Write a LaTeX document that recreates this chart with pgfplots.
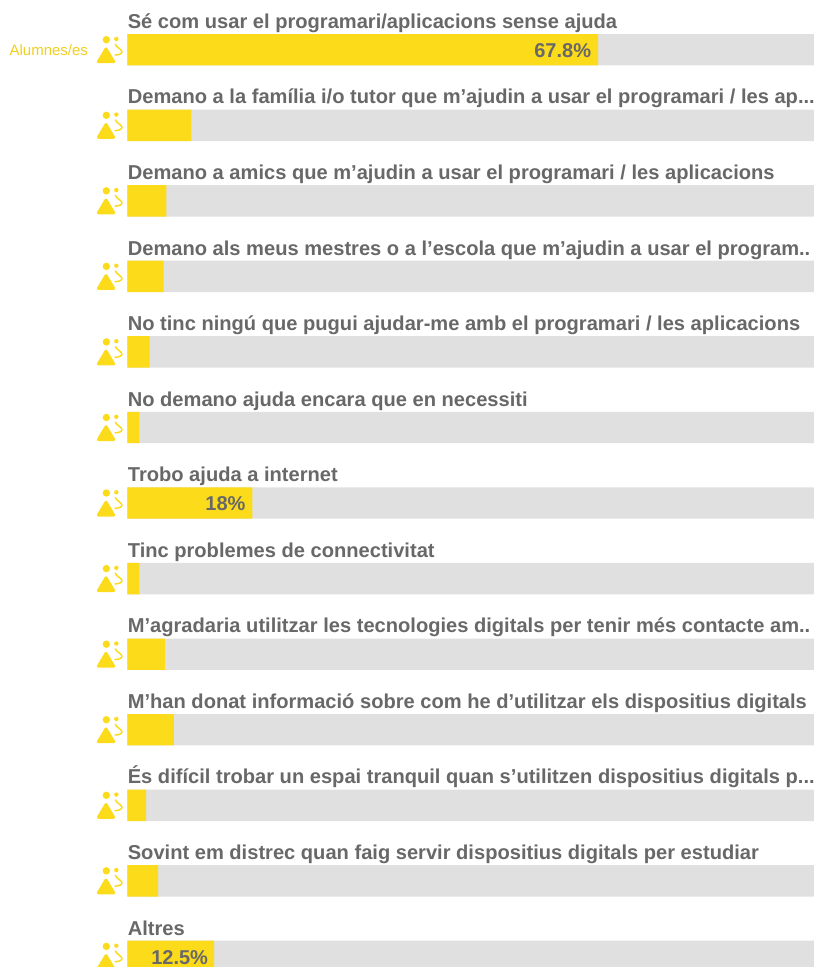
\documentclass[border=0pt]{standalone}
\usepackage{pgfplots}
\pgfplotsset{compat=1.18}
\usepackage{fontspec}
\setmainfont{Liberation Sans}
\definecolor{ybar}{HTML}{FCDB1B}
\definecolor{gbar}{HTML}{E0E0E0}
\definecolor{tgray}{HTML}{686868}
\definecolor{lab}{HTML}{F3CE1C}
\tikzset{
  ttl/.style={anchor=base west, inner sep=0pt, outer sep=0pt, text=tgray, font=\fontsize{20.1pt}{22pt}\selectfont\bfseries},
  pct/.style={anchor=base east, inner sep=0pt, outer sep=0pt, text=tgray, font=\fontsize{20pt}{22pt}\selectfont\bfseries},
}
\pgfdeclareplotmark{pupils}{%
  \pgfsetfillcolor{ybar}\pgfsetstrokecolor{ybar}%
  \pgfpathcircle{\pgfpoint{-4.5pt}{10pt}}{3.7pt}\pgfusepath{fill}%
  \pgfpathcircle{\pgfpoint{5.5pt}{10.7pt}}{2.2pt}\pgfusepath{fill}%
  \pgfsetroundjoin\pgfsetroundcap
  \pgfpathmoveto{\pgfpoint{-4.8pt}{0.8pt}}%
  \pgflineto{\pgfpoint{-12.4pt}{-12pt}}%
  \pgflineto{\pgfpoint{2.8pt}{-12pt}}%
  \pgfpathclose
  \pgfsetlinewidth{3pt}\pgfusepath{fill,stroke}%
  \pgfsetlinewidth{1.5pt}%
  \pgfpathmoveto{\pgfpoint{4.5pt}{5.4pt}}%
  \pgfpathcurveto{\pgfpoint{5.5pt}{2.5pt}}{\pgfpoint{11.2pt}{0pt}}{\pgfpoint{11.2pt}{-2pt}}%
  \pgfpathcurveto{\pgfpoint{11.2pt}{-4pt}}{\pgfpoint{8pt}{-5.3pt}}{\pgfpoint{4.2pt}{-5.3pt}}%
  \pgfusepath{stroke}%
}
\pgfplotstableread{
y val
49.7 67.8
125.3 9.2
200.8 5.6
276.4 5.2
351.9 3.2
427.5 1.7
503.0 18
578.6 1.7
654.2 5.4
729.7 6.7
805.3 2.7
880.8 4.4
956.4 12.5
}\datatable
\begin{document}
\begin{tikzpicture}
\useasboundingbox (0,0) rectangle (814pt,967pt);
\clip (0,0) rectangle (814pt,967pt);
\begin{axis}[
  at={(0,0)}, anchor=south west,
  width=814pt, height=967pt, scale only axis,
  xmin=-18.37, xmax=98.92, ymin=0, ymax=967, y dir=reverse,
  hide axis, clip mode=individual,
  xbar, bar width=31.4pt, bar shift=0pt,
]
\addplot[fill=gbar, draw=none] coordinates {(98.92,49.7)(98.92,125.3)(98.92,200.8)(98.92,276.4)(98.92,351.9)(98.92,427.5)(98.92,503.0)(98.92,578.6)(98.92,654.2)(98.92,729.7)(98.92,805.3)(98.92,880.8)(98.92,956.4)};
\addplot[fill=ybar, draw=none] table[x=val,y=y] {\datatable};
\addplot[only marks, mark=pupils, clip marker paths=true] coordinates {(-2.4,49.7)(-2.4,125.3)(-2.4,200.8)(-2.4,276.4)(-2.4,351.9)(-2.4,427.5)(-2.4,503.0)(-2.4,578.6)(-2.4,654.2)(-2.4,729.7)(-2.4,805.3)(-2.4,880.8)(-2.4,956.4)};
\node[ttl] at (axis cs:0.05,28.3) {Sé com usar el programari/aplicacions sense ajuda};
\node[ttl] at (axis cs:0.05,103.9) {Demano a la família i/o tutor que m’ajudin a usar el programari / les ap...};
\node[ttl] at (axis cs:0.05,179.4) {Demano a amics que m’ajudin a usar el programari / les aplicacions};
\node[ttl] at (axis cs:0.05,255) {Demano als meus mestres o a l’escola que m’ajudin a usar el program..};
\node[ttl] at (axis cs:0.05,330.5) {No tinc ningú que pugui ajudar-me amb el programari / les aplicacions};
\node[ttl] at (axis cs:0.05,406.1) {No demano ajuda encara que en necessiti};
\node[ttl] at (axis cs:0.05,481.6) {Trobo ajuda a internet};
\node[ttl] at (axis cs:0.05,557.2) {Tinc problemes de connectivitat};
\node[ttl] at (axis cs:0.05,632.8) {M’agradaria utilitzar les tecnologies digitals per tenir més contacte am..};
\node[ttl] at (axis cs:0.05,708.3) {M’han donat informació sobre com he d’utilitzar els dispositius digitals};
\node[ttl] at (axis cs:0.05,783.9) {És difícil trobar un espai tranquil quan s’utilitzen dispositius digitals p...};
\node[ttl] at (axis cs:0.05,859.4) {Sovint em distrec quan faig servir dispositius digitals per estudiar};
\node[ttl] at (axis cs:0.05,935) {Altres};
\node[pct] at (axis cs:66.8,57) {67.8\%};
\node[pct] at (axis cs:17,510.5) {18\%};
\node[pct] at (axis cs:11.6,964) {12.5\%};
\node[anchor=base east, inner sep=0pt, outer sep=0pt, text=lab, font=\fontsize{15pt}{17pt}\selectfont] at (axis cs:-5.69,55) {Alumnes/es};
\end{axis}
\end{tikzpicture}
\end{document}
